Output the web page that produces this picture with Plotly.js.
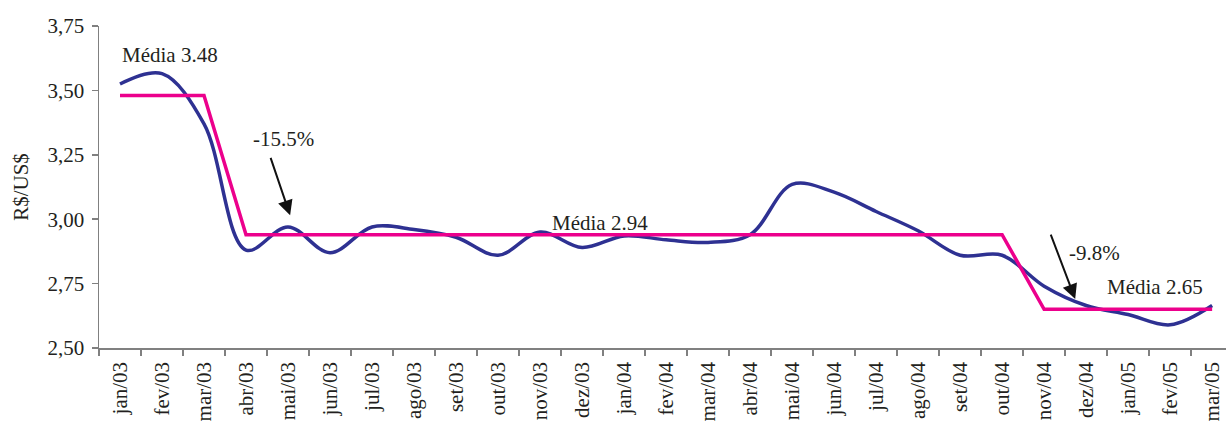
<!DOCTYPE html>
<html>
<head>
<meta charset="utf-8">
<script src="https://cdn.plot.ly/plotly-3.0.1.min.js"></script>
<style>
  html, body { margin: 0; padding: 0; background: #fff; }
  #chart { width: 1226px; height: 422px; }
</style>
</head>
<body>
<div id="chart"></div>
<script>
const months = ["jan/03","fev/03","mar/03","abr/03","mai/03","jun/03","jul/03","ago/03","set/03","out/03","nov/03","dez/03",
                "jan/04","fev/04","mar/04","abr/04","mai/04","jun/04","jul/04","ago/04","set/04","out/04","nov/04","dez/04",
                "jan/05","fev/05","mar/05"];
const rate = [3.525, 3.565, 3.37, 2.88, 2.97, 2.87, 2.97, 2.96, 2.93, 2.86, 2.95, 2.89,
              2.935, 2.92, 2.91, 2.94, 3.135, 3.105, 3.03, 2.955, 2.86, 2.86, 2.74, 2.665,
              2.63, 2.59, 2.665];
const periodMean = [3.48, 3.48, 3.48, 2.94, 2.94, 2.94, 2.94, 2.94, 2.94, 2.94, 2.94, 2.94,
                    2.94, 2.94, 2.94, 2.94, 2.94, 2.94, 2.94, 2.94, 2.94, 2.94, 2.65, 2.65,
                    2.65, 2.65, 2.65];
const yTicks = [2.50, 2.75, 3.00, 3.25, 3.50, 3.75];

const serif = '"Liberation Serif", "Times New Roman", serif';
const textColor = "#231f20";

const traces = [
  {
    x: months, y: rate, type: "scatter", mode: "lines",
    line: { color: "#2e3192", width: 3.5, shape: "spline", smoothing: 1 },
    hoverinfo: "skip", showlegend: false
  },
  {
    x: months, y: periodMean, type: "scatter", mode: "lines",
    line: { color: "#ec008c", width: 3.5, shape: "linear" },
    hoverinfo: "skip", showlegend: false
  }
];

const annFont = { family: serif, size: 21, color: textColor };
const layout = {
  width: 1226, height: 422,
  margin: { l: 99, r: 0, t: 25.5, b: 74 },
  paper_bgcolor: "#ffffff", plot_bgcolor: "#ffffff",
  separators: ",.",
  showlegend: false,
  font: { family: serif, color: textColor },
  xaxis: {
    type: "category",
    range: [-0.5, 26.33],
    tickson: "boundaries",
    ticks: "outside", ticklen: 6, tickwidth: 1.5, tickcolor: "#808080",
    showline: true, linecolor: "#808080", linewidth: 1.5,
    showgrid: false, zeroline: false,
    tickangle: -90,
    ticklabelstandoff: 4,
    tickfont: { family: serif, size: 21, color: textColor },
    fixedrange: true
  },
  yaxis: {
    range: [2.50, 3.75],
    tickvals: yTicks,
    tickformat: ".2f",
    ticks: "outside", ticklen: 6, tickwidth: 1.5, tickcolor: "#808080",
    showline: true, linecolor: "#808080", linewidth: 1.5,
    showgrid: false, zeroline: false,
    ticklabelstandoff: 3,
    tickfont: { family: serif, size: 21, color: textColor },
    title: { text: "R$/US$", font: { family: serif, size: 21, color: textColor }, standoff: 13 },
    fixedrange: true
  },
  annotations: [
    { x: 1.19, y: 3.636, xref: "x", yref: "y", text: "Média 3.48", showarrow: false, font: annFont },
    { x: 11.43, y: 2.985, xref: "x", yref: "y", text: "Média 2.94", showarrow: false, font: annFont },
    { x: 24.64, y: 2.737, xref: "x", yref: "y", text: "Média 2.65", showarrow: false, font: annFont },
    { x: 3.9, y: 3.31, xref: "x", yref: "y", text: "-15.5%", showarrow: false, font: annFont },
    { x: 23.19, y: 2.868, xref: "x", yref: "y", text: "-9.8%", showarrow: false, font: annFont },
    { x: 4.05, y: 3.015, xref: "x", yref: "y", text: "", showarrow: true,
      ax: -20, ay: -59, arrowhead: 2, arrowsize: 1.5, arrowwidth: 2, arrowcolor: "#111111", standoff: 0 },
    { x: 22.74, y: 2.69, xref: "x", yref: "y", text: "", showarrow: true,
      ax: -25, ay: -66, arrowhead: 2, arrowsize: 1.5, arrowwidth: 2, arrowcolor: "#111111", standoff: 0 }
  ]
};

Plotly.newPlot("chart", traces, layout, { staticPlot: true, displayModeBar: false });
</script>
</body>
</html>
